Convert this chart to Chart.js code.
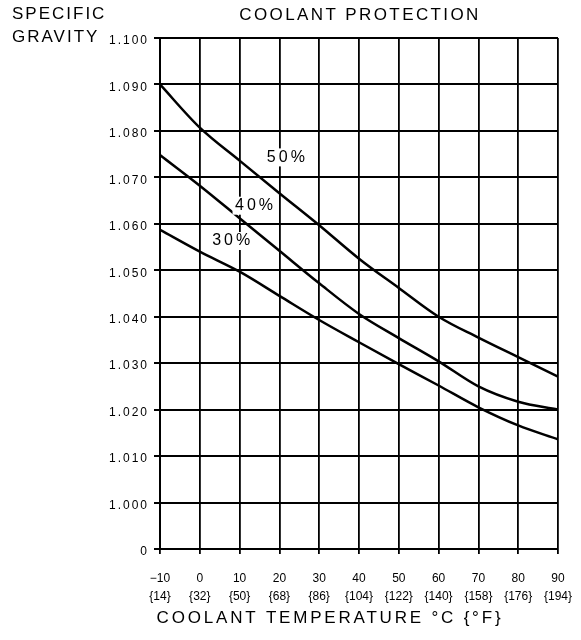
<!DOCTYPE html>
<html>
<head>
<meta charset="utf-8">
<script src="https://cdn.jsdelivr.net/npm/chart.js@4/dist/chart.umd.min.js"></script>
<style>
  html, body { margin: 0; padding: 0; background: #fff; }
  #wrap { width: 581px; height: 640px; position: relative; }
</style>
</head>
<body>
<div id="wrap"><canvas id="chart" width="581" height="640"></canvas></div>
<script>
// Temperaturen (°C) und Fahrenheit-Beschriftung
const tempsC = [-10, 0, 10, 20, 30, 40, 50, 60, 70, 80, 90];
const tempsF = [14, 32, 50, 68, 86, 104, 122, 140, 158, 176, 194];

// Spezifisches Gewicht je Mischung
const sg50 = [1.090, 1.0807, 1.0736, 1.0666, 1.0597, 1.0525, 1.0462, 1.0400, 1.0355, 1.0313, 1.0271];
const sg40 = [1.0748, 1.0682, 1.0612, 1.0542, 1.0472, 1.0406, 1.0354, 1.0304, 1.0250, 1.0217, 1.0200];
const sg30 = [1.0587, 1.0540, 1.0497, 1.0445, 1.0393, 1.0345, 1.0298, 1.0252, 1.0205, 1.0166, 1.0136];

const seriesNames = ["50%", "40%", "30%"];
// Position der Kurvenbeschriftung (°C, SG)
const labelPos = [[21.75, 1.0743], [13.75, 1.0639], [8, 1.0563]];

const font = "'Liberation Sans', Arial, sans-serif";

function makePoints(values) {
    return tempsC.map((t, i) => ({ x: t, y: values[i] }));
}

// Beschriftungen und Titel zeichnen
const textPlugin = {
    id: 'textPlugin',
    afterDatasetsDraw(chart) {
        // y-Beschriftung (ticks.z = 1) kommt danach: breitere Schrift
        chart.ctx.letterSpacing = '2px';
    },
    afterDraw(chart) {
        const ctx = chart.ctx;
        const xs = chart.scales.x;
        const ys = chart.scales.y;
        ctx.save();
        ctx.fillStyle = '#000';
        ctx.textBaseline = 'middle';

        ctx.font = "17px " + font;
        ctx.letterSpacing = '2px';
        ctx.textAlign = 'left';
        ctx.fillText("SPECIFIC", 12, 14);
        ctx.fillText("GRAVITY", 12, 37);

        ctx.textAlign = 'center';
        ctx.letterSpacing = '2.4px';
        ctx.fillText("COOLANT PROTECTION", 360, 15);
        ctx.letterSpacing = '2.8px';
        ctx.fillText("COOLANT TEMPERATURE °C {°F}", 330, 618);

        ctx.font = "16px " + font;
        ctx.letterSpacing = '3px';
        seriesNames.forEach((name, i) => {
            const px = xs.getPixelForValue(labelPos[i][0]);
            const py = ys.getPixelForValue(labelPos[i][1]);
            ctx.fillStyle = '#fff';
            ctx.fillRect(px - 22, py - 9, 44, 18);
            ctx.fillStyle = '#000';
            ctx.fillText(name, px + 1, py);
        });
        ctx.restore();
        ctx.letterSpacing = '0px';
    }
};

const lineStyle = {
    borderColor: '#000',
    borderWidth: 2.5,
    pointRadius: 0,
    fill: false,
    cubicInterpolationMode: 'monotone'
};

new Chart(document.getElementById("chart").getContext("2d"), {
    type: 'line',
    data: {
        datasets: [
            Object.assign({ label: seriesNames[0], data: makePoints(sg50) }, lineStyle),
            Object.assign({ label: seriesNames[1], data: makePoints(sg40) }, lineStyle),
            Object.assign({ label: seriesNames[2], data: makePoints(sg30) }, lineStyle)
        ]
    },
    options: {
        responsive: false,
        animation: false,
        layout: { padding: { top: 38, right: 23, left: 0, bottom: 0 } },
        plugins: {
            legend: { display: false },
            tooltip: { enabled: false }
        },
        scales: {
            x: {
                type: 'linear',
                min: -10,
                max: 90,
                afterFit: scale => {
                    scale.height = 91;
                    scale.paddingLeft = 0;
                    scale.paddingRight = 0;
                },
                afterBuildTicks: scale => {
                    scale.ticks = tempsC.map(v => ({ value: v }));
                },
                ticks: {
                    color: '#000',
                    font: { family: font, size: 12, lineHeight: 1.55 },
                    padding: 15,
                    maxRotation: 0,
                    callback: function(value) {
                        const i = tempsC.indexOf(value);
                        const c = value < 0 ? "\u2212" + Math.abs(value) : String(value);
                        return [c, "{" + tempsF[i] + "}"];
                    }
                },
                grid: { color: '#000', lineWidth: 1.8, tickLength: 5 },
                border: { color: '#000', width: 2 }
            },
            y: {
                type: 'linear',
                min: 0.99,
                max: 1.10,
                afterFit: scale => { scale.width = 160; },
                afterBuildTicks: scale => {
                    const t = [];
                    for (let i = 0; i <= 11; i++) t.push({ value: Math.round((0.99 + i * 0.01) * 1000) / 1000 });
                    scale.ticks = t;
                },
                ticks: {
                    color: '#000',
                    font: { family: font, size: 12 },
                    padding: 5,
                    labelOffset: 3,
                    z: 1,
                    callback: function(value) {
                        return value < 0.995 ? "0" : value.toFixed(3);
                    }
                },
                grid: { color: '#000', lineWidth: 2, tickLength: 6 },
                border: { color: '#000', width: 2 }
            }
        }
    },
    plugins: [textPlugin]
});
</script>
</body>
</html>
